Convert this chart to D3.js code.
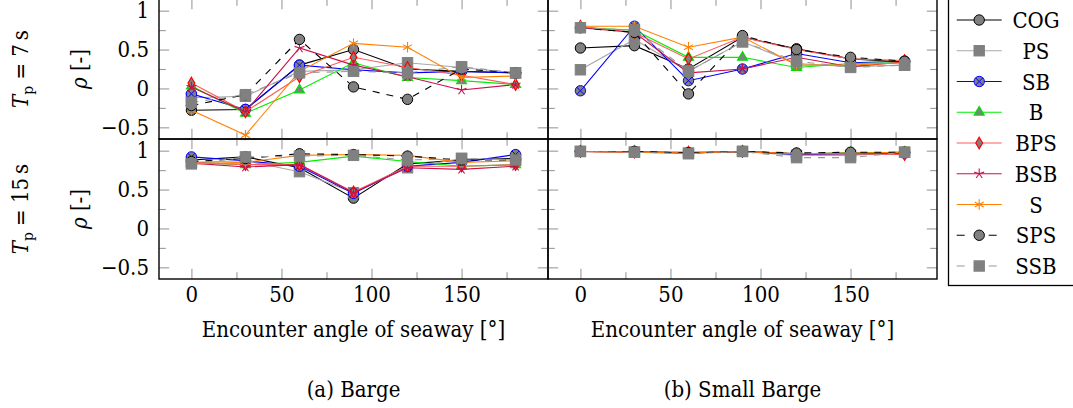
<!DOCTYPE html>
<html><head><meta charset="utf-8">
<script src="https://cdn.jsdelivr.net/npm/d3@7"></script>
<style>body{margin:0;background:#fff}svg{display:block}</style>
</head><body>
<svg id="c" width="1073" height="408"></svg>
<script>
// ---------- data ----------
const angles = [0, 30, 60, 90, 120, 150, 180];
const seriesNames = ["COG", "PS", "SB", "B", "BPS", "BSB", "S", "SPS", "SSB"];
const xTicks = [0, 50, 100, 150];
const xMinorTicks = [25, 75, 125, 175];
const yTicks = [-0.5, 0, 0.5, 1];
const yMinorTicks = [-0.25, 0.25, 0.75];

// (a) Barge, Tp = 7 s
const bargeT7_COG = [-0.28, -0.27, 0.30, 0.50, 0.25, 0.22, 0.20];
const bargeT7_PS  = [-0.12, -0.10, 0.22, 0.24, 0.33, 0.27, 0.20];
const bargeT7_SB  = [-0.07, -0.27, 0.30, 0.24, 0.20, 0.22, 0.20];
const bargeT7_B   = [0.03, -0.32, -0.02, 0.33, 0.14, 0.10, 0.05];
const bargeT7_BPS = [0.07, -0.30, 0.15, 0.40, 0.27, 0.17, 0.05];
const bargeT7_BSB = [0.02, -0.30, 0.52, 0.30, 0.15, -0.02, 0.05];
const bargeT7_S   = [-0.28, -0.60, 0.22, 0.58, 0.53, 0.14, 0.16];
const bargeT7_SPS = [-0.22, -0.08, 0.63, 0.02, -0.14, 0.25, 0.20];
const bargeT7_SSB = [-0.18, -0.08, 0.20, 0.22, 0.20, 0.28, 0.20];

// (b) Small Barge, Tp = 7 s
const smallT7_COG = [0.52, 0.55, 0.25, 0.66, 0.51, 0.38, 0.34];
const smallT7_PS  = [0.24, 0.63, 0.22, 0.60, 0.32, 0.28, 0.30];
const smallT7_SB  = [-0.03, 0.80, 0.10, 0.25, 0.45, 0.33, 0.35];
const smallT7_B   = [0.78, 0.75, 0.40, 0.40, 0.27, 0.32, 0.33];
const smallT7_BPS = [0.80, 0.72, 0.38, 0.66, 0.50, 0.38, 0.36];
const smallT7_BSB = [0.78, 0.72, 0.20, 0.25, 0.40, 0.28, 0.34];
const smallT7_S   = [0.80, 0.80, 0.53, 0.66, 0.30, 0.30, 0.33];
const smallT7_SPS = [0.78, 0.72, -0.07, 0.68, 0.50, 0.40, 0.35];
const smallT7_SSB = [0.78, 0.75, 0.22, 0.60, 0.35, 0.27, 0.30];

// (a) Barge, Tp = 15 s
const bargeT15_COG = [0.88, 0.92, 0.78, 0.39, 0.83, 0.88, 0.90];
const bargeT15_PS  = [0.85, 0.87, 0.73, 0.46, 0.78, 0.90, 0.88];
const bargeT15_SB  = [0.92, 0.87, 0.80, 0.45, 0.80, 0.85, 0.95];
const bargeT15_B   = [0.85, 0.82, 0.85, 0.93, 0.86, 0.80, 0.82];
const bargeT15_BPS = [0.85, 0.82, 0.82, 0.47, 0.80, 0.80, 0.82];
const bargeT15_BSB = [0.84, 0.79, 0.82, 0.46, 0.78, 0.76, 0.80];
const bargeT15_S   = [0.83, 0.85, 0.94, 0.95, 0.94, 0.85, 0.87];
const bargeT15_SPS = [0.86, 0.90, 0.96, 0.95, 0.93, 0.88, 0.88];
const bargeT15_SSB = [0.83, 0.92, 0.93, 0.94, 0.88, 0.90, 0.88];

// (b) Small Barge, Tp = 15 s
const smallT15_COG = [0.99, 0.99, 0.97, 0.99, 0.96, 0.97, 0.98];
const smallT15_PS  = [0.99, 0.98, 0.97, 0.99, 0.94, 0.94, 0.98];
const smallT15_SB  = [0.99, 0.99, 0.97, 0.99, 0.95, 0.96, 0.97];
const smallT15_B   = [0.99, 0.99, 0.98, 0.99, 0.96, 0.97, 0.98];
const smallT15_BPS = [0.99, 0.98, 0.98, 0.99, 0.96, 0.96, 0.95];
const smallT15_BSB = [0.99, 0.98, 0.97, 0.99, 0.96, 0.96, 0.96];
const smallT15_S   = [0.99, 0.98, 0.97, 0.99, 0.96, 0.97, 0.98];
const smallT15_SPS = [0.99, 0.99, 0.97, 0.99, 0.97, 0.98, 0.98];
const smallT15_SSB = [0.99, 0.98, 0.96, 0.99, 0.91, 0.91, 0.98];

const panelData = {
  bargeT7: [bargeT7_COG, bargeT7_PS, bargeT7_SB, bargeT7_B, bargeT7_BPS, bargeT7_BSB, bargeT7_S, bargeT7_SPS, bargeT7_SSB],
  smallT7: [smallT7_COG, smallT7_PS, smallT7_SB, smallT7_B, smallT7_BPS, smallT7_BSB, smallT7_S, smallT7_SPS, smallT7_SSB],
  bargeT15: [bargeT15_COG, bargeT15_PS, bargeT15_SB, bargeT15_B, bargeT15_BPS, bargeT15_BSB, bargeT15_S, bargeT15_SPS, bargeT15_SSB],
  smallT15: [smallT15_COG, smallT15_PS, smallT15_SB, smallT15_B, smallT15_BPS, smallT15_BSB, smallT15_S, smallT15_SPS, smallT15_SSB]
};

// ---------- styles ----------
const GRAY = "#808080";
const FONT = '"DejaVu Serif Condensed", "DejaVu Serif", "Liberation Serif", serif';
const styles = [
  {line: "#000000", mark: "circle",   stroke: "#000000", dash: null},
  {line: "#a8a8a8", mark: "square",   stroke: "#808080", dash: null},
  {line: "#0000ff", mark: "otimes",   stroke: "#0000ff", dash: null},
  {line: "#00ee00", mark: "triangle", stroke: "#00dd00", dash: null},
  {line: "#ff5a5a", mark: "diamond",  stroke: "#ff0000", dash: null},
  {line: "#c8104a", mark: "star",     stroke: "#c8104a", dash: null},
  {line: "#ff8000", mark: "asterisk", stroke: "#ff8000", dash: null},
  {line: "#000000", mark: "circle",   stroke: "#000000", dash: "7,7"},
  {line: "#999999", mark: "square",   stroke: "#808080", dash: "7,7"}
];

const svg = d3.select("#c");
const xLabel = "Encounter angle of seaway [°]";

// fit font size so that the axis title has about the reference width
const probe = svg.append("text").style("font-family", FONT).style("font-stretch", "condensed").style("font-size", "100px").text(xLabel);
const probeW = probe.node().getComputedTextLength();
probe.remove();
const FS = Math.max(16, Math.min(22, 100 * 326 / probeW));

function txt(sel) { return sel.style("font-family", FONT).style("font-stretch", "condensed").style("font-size", FS + "px").attr("fill", "#000"); }

function drawMarker(g, type, stroke) {
  const r = 5.2;
  if (type === "circle") {
    g.append("circle").attr("r", r).attr("fill", GRAY).attr("stroke", stroke).attr("stroke-width", 1);
  } else if (type === "square") {
    g.append("rect").attr("x", -r).attr("y", -r).attr("width", 2*r).attr("height", 2*r)
      .attr("fill", GRAY).attr("stroke", stroke).attr("stroke-width", 1);
  } else if (type === "otimes") {
    g.append("circle").attr("r", r).attr("fill", GRAY).attr("stroke", stroke).attr("stroke-width", 1);
    const k = r * 0.7071;
    g.append("path").attr("d", `M${-k},${-k}L${k},${k}M${-k},${k}L${k},${-k}`).attr("stroke", stroke).attr("stroke-width", 1);
  } else if (type === "triangle") {
    g.append("path").attr("d", `M0,${-r*1.1}L${r*0.95},${r*0.55}L${-r*0.95},${r*0.55}Z`)
      .attr("fill", GRAY).attr("stroke", stroke).attr("stroke-width", 1.2);
  } else if (type === "diamond") {
    g.append("path").attr("d", `M0,${-r*1.1}L${r*0.65},0L0,${r*1.1}L${-r*0.65},0Z`)
      .attr("fill", GRAY).attr("stroke", stroke).attr("stroke-width", 1.2);
  } else if (type === "star") {
    let d = "";
    for (let i = 0; i < 5; i++) {
      const a = -Math.PI/2 + i * 2*Math.PI/5;
      d += `M0,0L${(r*Math.cos(a)).toFixed(2)},${(r*Math.sin(a)).toFixed(2)}`;
    }
    g.append("path").attr("d", d).attr("stroke", stroke).attr("stroke-width", 1.1).attr("fill", "none");
  } else if (type === "asterisk") {
    let d = "";
    for (let i = 0; i < 3; i++) {
      const a = -Math.PI/2 + i * Math.PI/3;
      const cx = r*Math.cos(a), cy = r*Math.sin(a);
      d += `M${(-cx).toFixed(2)},${(-cy).toFixed(2)}L${cx.toFixed(2)},${cy.toFixed(2)}`;
    }
    g.append("path").attr("d", d).attr("stroke", stroke).attr("stroke-width", 1.1).attr("fill", "none");
  }
}

// ---------- panels ----------
const xDomain = [-18, 198];
const yDomain = [-0.65, 1.15];
const panels = [
  {key: "bargeT7",  x0: 159, x1: 548, y0: -1,  y1: 139, yLabels: true,  xLabels: false},
  {key: "smallT7",  x0: 548, x1: 937, y0: -1,  y1: 139, yLabels: false, xLabels: false},
  {key: "bargeT15", x0: 159, x1: 548, y0: 139, y1: 279, yLabels: true,  xLabels: true},
  {key: "smallT15", x0: 548, x1: 937, y0: 139, y1: 279, yLabels: false, xLabels: true}
];
const fmt = d => d3.format("~g")(d);
const TICKC = "#9a9a9a";

panels.forEach(p => {
  const x = d3.scaleLinear().domain(xDomain).range([p.x0, p.x1]);
  const y = d3.scaleLinear().domain(yDomain).range([p.y1, p.y0]);
  const g = svg.append("g");

  const styleAxis = (sel) => {
    sel.select(".domain").remove();
    sel.selectAll(".tick line").attr("stroke", TICKC).attr("stroke-width", 1.1);
    sel.selectAll("text").call(txt);
  };
  g.append("g").attr("transform", `translate(0,${p.y1})`)
    .call(d3.axisBottom(x).tickValues(xTicks).tickSizeInner(-10.2).tickSizeOuter(0).tickPadding(7)
      .tickFormat(p.xLabels ? fmt : () => ""))
    .call(styleAxis);
  g.append("g").attr("transform", `translate(0,${p.y0})`)
    .call(d3.axisTop(x).tickValues(xTicks).tickSizeInner(-10.2).tickSizeOuter(0).tickFormat(() => ""))
    .call(styleAxis);
  g.append("g").attr("transform", `translate(${p.x0},0)`)
    .call(d3.axisLeft(y).tickValues(yTicks).tickSizeInner(-10.2).tickSizeOuter(0).tickPadding(10)
      .tickFormat(p.yLabels ? fmt : () => ""))
    .call(styleAxis);
  g.append("g").attr("transform", `translate(${p.x1},0)`)
    .call(d3.axisRight(y).tickValues(yTicks).tickSizeInner(-10.2).tickSizeOuter(0).tickFormat(() => ""))
    .call(styleAxis);
  g.append("g").attr("transform", `translate(0,${p.y1})`)
    .call(d3.axisBottom(x).tickValues(xMinorTicks).tickSizeInner(-6.8).tickSizeOuter(0).tickFormat(() => ""))
    .call(styleAxis);
  g.append("g").attr("transform", `translate(0,${p.y0})`)
    .call(d3.axisTop(x).tickValues(xMinorTicks).tickSizeInner(-6.8).tickSizeOuter(0).tickFormat(() => ""))
    .call(styleAxis);
  g.append("g").attr("transform", `translate(${p.x0},0)`)
    .call(d3.axisLeft(y).tickValues(yMinorTicks).tickSizeInner(-6.8).tickSizeOuter(0).tickFormat(() => ""))
    .call(styleAxis);
  g.append("g").attr("transform", `translate(${p.x1},0)`)
    .call(d3.axisRight(y).tickValues(yMinorTicks).tickSizeInner(-6.8).tickSizeOuter(0).tickFormat(() => ""))
    .call(styleAxis);

  const line = d3.line().x((d, i) => x(angles[i])).y(d => y(d));
  panelData[p.key].forEach((vals, si) => {
    const st = styles[si];
    const sg = g.append("g");
    sg.append("path").attr("d", line(vals)).attr("fill", "none").attr("stroke", st.line)
      .attr("stroke-width", 1.1).attr("stroke-dasharray", st.dash);
    vals.forEach((v, i) => {
      const mg = sg.append("g").attr("transform", `translate(${x(angles[i])},${y(v)})`);
      drawMarker(mg, st.mark, st.stroke);
    });
  });

  g.append("rect").attr("x", p.x0).attr("y", p.y0).attr("width", p.x1 - p.x0).attr("height", p.y1 - p.y0)
    .attr("fill", "none").attr("stroke", "#000").attr("stroke-width", 1.4);
});

// ---------- labels ----------
[[353.5, "(a) Barge"], [742.5, "(b) Small Barge"]].forEach(([cx, cap]) => {
  svg.append("text").attr("x", cx).attr("y", 337).attr("text-anchor", "middle").call(txt).text(xLabel);
  svg.append("text").attr("x", cx).attr("y", 396.5).attr("text-anchor", "middle").call(txt).text(cap);
});

[[69, "7"], [209, "15"]].forEach(([cy, tp]) => {
  const t = svg.append("text").attr("transform", `translate(28,${cy}) rotate(-90)`).attr("text-anchor", "middle").call(txt);
  t.append("tspan").style("font-style", "italic").text("T");
  t.append("tspan").attr("dy", 5).style("font-size", (FS*0.7) + "px").text("p");
  t.append("tspan").attr("dy", -5).text(" = " + tp + "\u2009s");
  const r = svg.append("text").attr("transform", `translate(87,${cy}) rotate(-90)`).attr("text-anchor", "middle").call(txt);
  r.append("tspan").style("font-style", "italic").text("ρ");
  r.append("tspan").text(" [-]");
});

// ---------- legend ----------
const lg = svg.append("g");
lg.append("rect").attr("x", 948.5).attr("y", -1).attr("width", 140).attr("height", 286.5)
  .attr("fill", "#fff").attr("stroke", "#000").attr("stroke-width", 1.3);
seriesNames.forEach((name, i) => {
  const cy = 20 + i * 30.75;
  const st = styles[i];
  const eg = lg.append("g");
  eg.append("line").attr("x1", 956.7).attr("x2", 1001.7).attr("y1", cy).attr("y2", cy)
    .attr("stroke", st.line).attr("stroke-width", 1.1).attr("stroke-dasharray", st.dash ? "8,24" : null);
  const mg = eg.append("g").attr("transform", `translate(979.2,${cy})`);
  drawMarker(mg, st.mark, st.stroke);
  eg.append("text").attr("x", 1036).attr("y", cy + 8).attr("text-anchor", "middle").call(txt).text(name);
});
</script>
</body></html>
